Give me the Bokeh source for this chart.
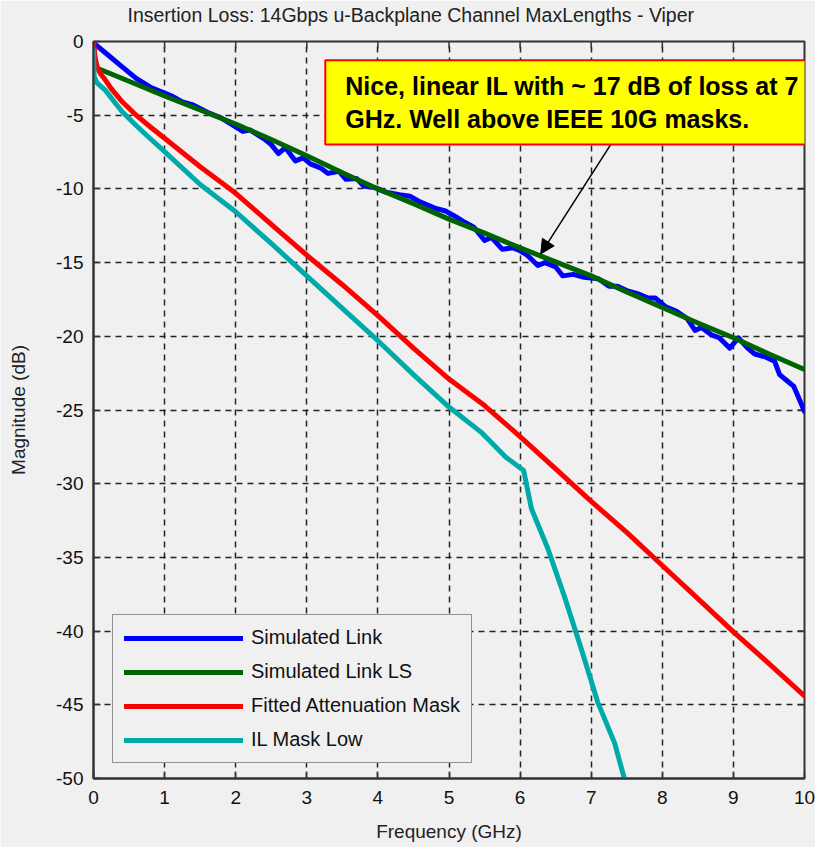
from bokeh.plotting import figure
from bokeh.models import (Legend, LegendItem, Label, Arrow, NormalHead,
                          FixedTicker, Range1d)
from bokeh.embed import file_html
from bokeh.resources import INLINE

# ---------------- data ----------------
sim_f = [0.0, 0.2, 0.4, 0.6, 0.8, 1.0, 1.1, 1.25, 1.4, 1.6, 1.8, 2.0, 2.1, 2.2,
         2.4, 2.5, 2.6, 2.7, 2.84, 2.95, 3.05, 3.2, 3.3, 3.45, 3.55, 3.7, 3.8,
         3.95, 4.1, 4.3, 4.45, 4.6, 4.8, 4.95, 5.1, 5.2, 5.35, 5.5, 5.6, 5.75,
         5.9, 6.0, 6.1, 6.25, 6.35, 6.5, 6.6, 6.75, 6.9, 7.1, 7.25, 7.37, 7.5,
         7.65, 7.8, 7.9, 8.05, 8.2, 8.35, 8.46, 8.55, 8.69, 8.8, 8.95, 9.07,
         9.2, 9.3, 9.45, 9.58, 9.65, 9.75, 9.85, 9.93, 10.0]
sim_db = [-0.1, -0.9, -1.7, -2.5, -3.1, -3.5, -3.7, -4.1, -4.3, -4.8, -5.2, -5.8,
          -6.1, -6.0, -6.6, -7.0, -7.6, -7.2, -8.1, -7.9, -8.3, -8.6, -8.95,
          -8.8, -9.35, -9.3, -9.8, -9.9, -10.2, -10.4, -10.5, -10.9, -11.3,
          -11.5, -11.9, -12.2, -12.6, -13.5, -13.3, -14.1, -14.0, -14.2, -14.5,
          -15.2, -15.0, -15.3, -15.9, -15.8, -16.0, -16.1, -16.6, -16.6, -16.9,
          -17.1, -17.4, -17.4, -18.0, -18.3, -18.8, -19.6, -19.4, -19.9, -20.1,
          -20.8, -20.1, -20.8, -21.2, -21.4, -21.7, -22.6, -23.0, -23.4, -24.3,
          -25.1]

ls_f = [0.07, 0.5, 1.0, 1.5, 2.0, 2.5, 3.0, 3.5, 4.0, 4.5, 5.0, 5.5, 6.0, 6.5,
        7.0, 7.5, 8.0, 8.5, 9.0, 9.5, 10.0]
ls_db = [-1.85, -2.7, -3.7, -4.65, -5.6, -6.65, -7.75, -8.9, -10.0, -11.0,
         -12.05, -13.0, -14.0, -14.95, -15.9, -17.0, -18.05, -19.1, -20.1,
         -21.2, -22.25]

mask_f = [0.0, 0.02, 0.05, 0.1, 0.165, 0.25, 0.4, 0.6, 0.8, 1.0, 1.5, 2.0, 2.5,
          3.0, 3.5, 4.0, 4.5, 5.0, 5.5, 6.0, 6.5, 7.0, 7.5, 8.0, 8.5, 9.0, 9.5,
          10.0]
mask_db = [0.0, -1.0, -1.7, -2.2, -2.6, -3.2, -4.07, -5.0, -5.8, -6.56, -8.5,
           -10.3, -12.4, -14.5, -16.5, -18.6, -20.8, -22.9, -24.7, -26.8,
           -29.0, -31.2, -33.3, -35.55, -37.8, -40.05, -42.2, -44.4]

low_f = [0.0, 0.01, 0.05, 0.165, 0.4, 0.6, 0.8, 1.0, 1.5, 2.0, 2.5, 3.0, 3.5,
         4.0, 4.5, 5.0, 5.45, 5.8, 6.05, 6.16, 6.39, 6.62, 6.86, 7.09, 7.33,
         7.5]
low_db = [-0.6, -2.4, -2.8, -3.3, -4.75, -5.7, -6.6, -7.47, -9.7, -11.55,
          -13.7, -15.9, -18.1, -20.3, -22.6, -24.8, -26.5, -28.2, -29.1, -31.7,
          -34.4, -37.6, -41.2, -44.8, -47.6, -50.6]

series_names = ["Simulated Link", "Simulated Link LS",
                "Fitted Attenuation Mask", "IL Mask Low"]
series_colors = ["#0000ff", "#006400", "#ff0000", "#00aaaa"]

x_ticks = [0, 1, 2, 3, 4, 5, 6, 7, 8, 9, 10]
y_ticks = [0, -5, -10, -15, -20, -25, -30, -35, -40, -45, -50]
y_tick_labels = ["0", "-5", "-10", "-15", "-20", "-25", "-30", "-35", "-40",
                 "-45", "-50"]

title_text = "Insertion Loss: 14Gbps  u-Backplane Channel MaxLengths - Viper"
note_text = "Nice, linear IL with ~ 17 dB of loss at 7\nGHz. Well above IEEE 10G masks."
note_pos = (3.26, -1.28)
arrow_start = (7.31, -6.72)
arrow_end = (6.29, -14.41)

# ---------------- styling ----------------
BG = "#f0f0f0"
FONT = "Liberation Sans"
FS = "19px"
AX = "#333333"
X0, X1, Y0, Y1 = 0, 10, -50, 0

p = figure(width=815, height=847, x_range=Range1d(X0, X1), y_range=Range1d(Y0, Y1),
           output_backend="svg", toolbar_location=None,
           min_border_left=93, min_border_right=11, min_border_top=41,
           min_border_bottom=69,
           background_fill_color=BG, border_fill_color=BG,
           outline_line_color=AX, outline_line_width=2)

p.title.text = title_text
p.title.text_font = FONT
p.title.text_font_size = "19.5px"
p.title.text_font_style = "normal"
p.title.text_color = "#222222"
p.title.align = "left"
p.title.offset = 34
p.title.standoff = 0
p.title.padding = dict(left=0, right=0, top=0, bottom=16)

for ax in (p.xaxis[0], p.yaxis[0]):
    ax.major_tick_in = 7
    ax.major_tick_out = 0
    ax.minor_tick_line_color = None
    ax.axis_line_color = AX
    ax.axis_line_width = 2
    ax.major_tick_line_color = AX
    ax.major_tick_line_width = 1.5
    ax.major_label_text_font = FONT
    ax.major_label_text_font_size = FS
    ax.major_label_text_color = "#111111"
    ax.axis_label_text_font = FONT
    ax.axis_label_text_font_size = FS
    ax.axis_label_text_font_style = "normal"
    ax.axis_label_text_color = "#222222"

p.xaxis.ticker = FixedTicker(ticks=x_ticks)
p.yaxis.ticker = FixedTicker(ticks=y_ticks)
p.yaxis.major_label_overrides = dict(zip(y_ticks, y_tick_labels))
p.xaxis.axis_label = "Frequency (GHz)"
p.yaxis.axis_label = "Magnitude (dB)"
p.xaxis.major_label_standoff = 12
p.xaxis.axis_label_standoff = 14
p.yaxis.major_label_standoff = 10
p.yaxis.axis_label_standoff = 24

p.grid.grid_line_color = "black"
p.grid.grid_line_dash = "6 5"
p.grid.grid_line_width = 1.5
p.grid.grid_line_alpha = 0.85

# inward tick marks on the top and right sides of the box (MATLAB style)
tick_dx = 7 / 71.1
tick_dy = 7 / 14.74
inner_x = x_ticks[1:-1]
inner_y = y_ticks[1:-1]
p.segment(x0=inner_x, y0=[Y1] * len(inner_x), x1=inner_x,
          y1=[Y1 - tick_dy] * len(inner_x), line_color=AX, line_width=1.5)
p.segment(x0=[X1] * len(inner_y), y0=inner_y, x1=[X1 - tick_dx] * len(inner_y),
          y1=inner_y, line_color=AX, line_width=1.5)

renderers = []
for xs, ys, col in ((sim_f, sim_db, series_colors[0]),
                    (ls_f, ls_db, series_colors[1]),
                    (mask_f, mask_db, series_colors[2]),
                    (low_f, low_db, series_colors[3])):
    renderers.append(p.line(xs, ys, line_color=col, line_width=5,
                            line_join="round", line_cap="round"))

legend = Legend(items=[LegendItem(label=n, renderers=[r])
                       for n, r in zip(series_names, renderers)],
                location=(19, 15), margin=0, padding=11, spacing=11,
                glyph_width=119, glyph_height=22, label_height=22,
                label_standoff=8, label_text_font=FONT,
                label_text_font_size="20px", label_text_color="#111111",
                border_line_color=AX, border_line_width=1.5,
                background_fill_color=BG, background_fill_alpha=1.0)
p.add_layout(legend)

p.add_layout(Arrow(end=NormalHead(size=14, fill_color="black", line_color="black"),
                   x_start=arrow_start[0], y_start=arrow_start[1],
                   x_end=arrow_end[0], y_end=arrow_end[1],
                   line_color="black", line_width=1.5))

p.add_layout(Label(x=note_pos[0], y=note_pos[1], text=note_text,
                   anchor="top_left", text_font=FONT, text_font_size="25px",
                   text_font_style="bold", text_color="black",
                   text_line_height=1.15,
                   background_fill_color="#ffff00", background_fill_alpha=1.0,
                   border_line_color="#ff0000", border_line_width=2,
                   padding=dict(left=20, right=24, top=12, bottom=12)))

html = file_html(p, INLINE)
html = html.replace("<body>", '<body style="background-color:#f0f0f0;">', 1)
open("out.html", "w").write(html)
